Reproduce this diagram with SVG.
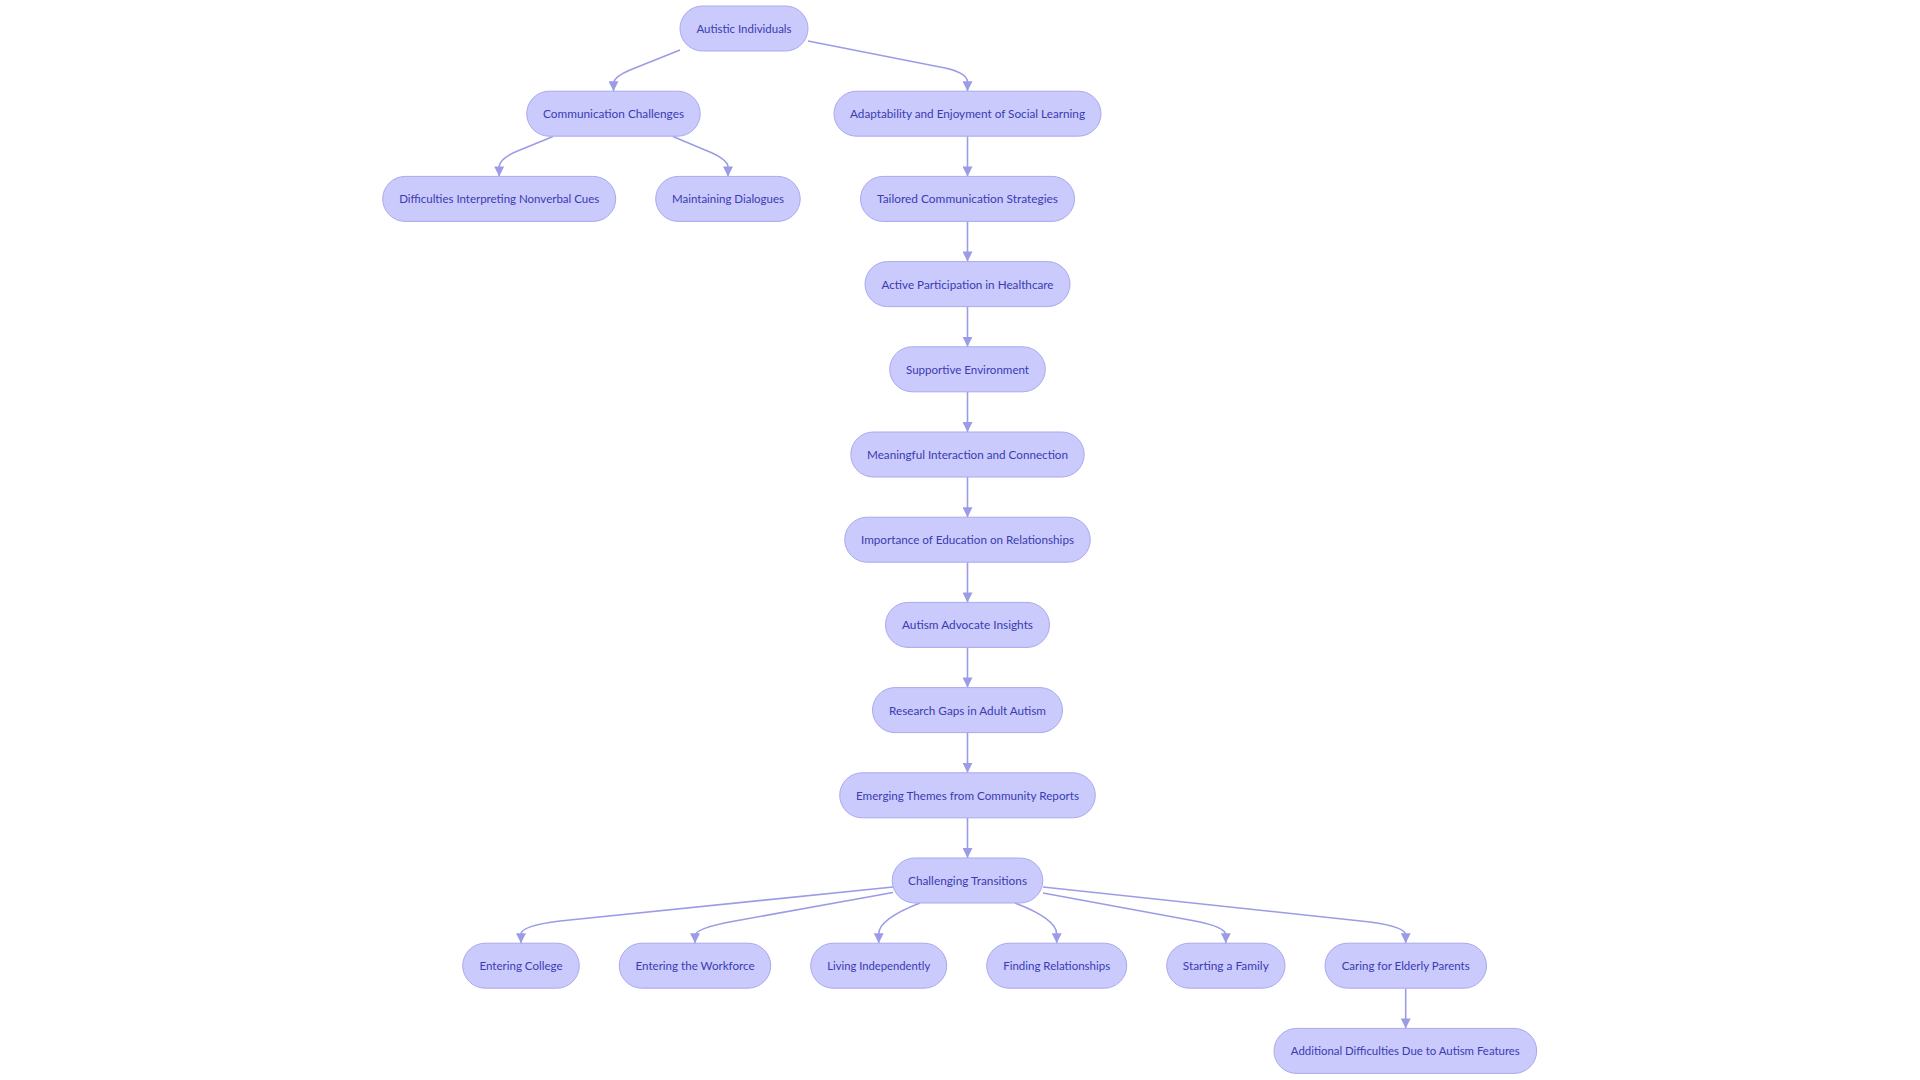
<svg xmlns="http://www.w3.org/2000/svg" width="1920" height="1080" viewBox="0 0 1920 1080">
<style>
.bg{fill:#ffffff}
.node rect{fill:#cacafc;stroke:#a9a9ee;stroke-width:1}
.node text{font-family:Lato,"Noto Sans",sans-serif;font-size:12.2px;fill:#3b3bb2;text-anchor:middle;dominant-baseline:central}
.edge{fill:none;stroke:#9c9ce6;stroke-width:1.6}
</style>
<defs>
<marker id="arr" viewBox="0 0 10 10" refX="10" refY="5" markerWidth="10.5" markerHeight="10" markerUnits="userSpaceOnUse" orient="auto">
<path d="M0,0 L10,5 L0,10 Z" fill="#9c9ce6"/>
</marker>
</defs>
<rect class="bg" x="0" y="0" width="1920" height="1080"/>
<g id="connectors">
<path class="edge" marker-end="url(#arr)" d="M680,50 L635,68 Q613.5,76 613.5,84 L613.5,91.2"/>
<path class="edge" marker-end="url(#arr)" d="M808,41 L945,68 Q967.5,73 967.5,82 L967.5,91.2"/>
<path class="edge" marker-end="url(#arr)" d="M553,136.5 L520,150 Q499.2,158 499.2,167 L499.2,176.4"/>
<path class="edge" marker-end="url(#arr)" d="M673,136.5 L705,150 Q728,159 728,167 L728,176.4"/>
<path class="edge" marker-end="url(#arr)" d="M967.5,136.2 L967.5,176.4"/>
<path class="edge" marker-end="url(#arr)" d="M967.5,221.4 L967.5,261.6"/>
<path class="edge" marker-end="url(#arr)" d="M967.5,306.6 L967.5,346.8"/>
<path class="edge" marker-end="url(#arr)" d="M967.5,391.8 L967.5,432"/>
<path class="edge" marker-end="url(#arr)" d="M967.5,477 L967.5,517.2"/>
<path class="edge" marker-end="url(#arr)" d="M967.5,562.2 L967.5,602.4"/>
<path class="edge" marker-end="url(#arr)" d="M967.5,647.4 L967.5,687.6"/>
<path class="edge" marker-end="url(#arr)" d="M967.5,732.6 L967.5,772.8"/>
<path class="edge" marker-end="url(#arr)" d="M967.5,817.8 L967.5,858"/>
<path class="edge" marker-end="url(#arr)" d="M893,887 L560,921 Q521,926 521,934 L521,943.2"/>
<path class="edge" marker-end="url(#arr)" d="M893,892.5 L735,921 Q695,928 695,936 L695,943.2"/>
<path class="edge" marker-end="url(#arr)" d="M920,903 Q878.7,919 878.7,934 L878.7,943.2"/>
<path class="edge" marker-end="url(#arr)" d="M1015,903 Q1056.7,919 1056.7,934 L1056.7,943.2"/>
<path class="edge" marker-end="url(#arr)" d="M1043,893 L1195,921 Q1225.8,927 1225.8,935 L1225.8,943.2"/>
<path class="edge" marker-end="url(#arr)" d="M1043,887 L1370,922 Q1405.7,927 1405.7,935 L1405.7,943.2"/>
<path class="edge" marker-end="url(#arr)" d="M1405.7,988.2 L1405.7,1028.4"/>
</g>
<g id="n_autistic" class="node"><rect x="680" y="6" width="128" height="45" rx="22.5"/><text x="744" y="28.5" textLength="95" lengthAdjust="spacingAndGlyphs">Autistic Individuals</text></g>
<g id="n_comm" class="node"><rect x="526.7" y="91.2" width="173.5" height="45" rx="22.5"/><text x="613.5" y="113.7" textLength="141" lengthAdjust="spacingAndGlyphs">Communication Challenges</text></g>
<g id="n_adapt" class="node"><rect x="834" y="91.2" width="267" height="45" rx="22.5"/><text x="967.5" y="113.7" textLength="235" lengthAdjust="spacingAndGlyphs">Adaptability and Enjoyment of Social Learning</text></g>
<g id="n_diff" class="node"><rect x="382.7" y="176.4" width="233" height="45" rx="22.5"/><text x="499.2" y="198.9" textLength="200" lengthAdjust="spacingAndGlyphs">Difficulties Interpreting Nonverbal Cues</text></g>
<g id="n_maint" class="node"><rect x="655.7" y="176.4" width="144.5" height="45" rx="22.5"/><text x="728" y="198.9" textLength="112" lengthAdjust="spacingAndGlyphs">Maintaining Dialogues</text></g>
<g id="n_tailored" class="node"><rect x="860.5" y="176.4" width="214" height="45" rx="22.5"/><text x="967.5" y="198.9" textLength="181" lengthAdjust="spacingAndGlyphs">Tailored Communication Strategies</text></g>
<g id="n_active" class="node"><rect x="865" y="261.6" width="205" height="45" rx="22.5"/><text x="967.5" y="284.1" textLength="172" lengthAdjust="spacingAndGlyphs">Active Participation in Healthcare</text></g>
<g id="n_support" class="node"><rect x="889.7" y="346.8" width="155.6" height="45" rx="22.5"/><text x="967.5" y="369.3" textLength="123" lengthAdjust="spacingAndGlyphs">Supportive Environment</text></g>
<g id="n_meaning" class="node"><rect x="850.8" y="432" width="233.4" height="45" rx="22.5"/><text x="967.5" y="454.5" textLength="201" lengthAdjust="spacingAndGlyphs">Meaningful Interaction and Connection</text></g>
<g id="n_import" class="node"><rect x="844.7" y="517.2" width="245.6" height="45" rx="22.5"/><text x="967.5" y="539.7" textLength="213" lengthAdjust="spacingAndGlyphs">Importance of Education on Relationships</text></g>
<g id="n_advocate" class="node"><rect x="885.5" y="602.4" width="164" height="45" rx="22.5"/><text x="967.5" y="624.9" textLength="131" lengthAdjust="spacingAndGlyphs">Autism Advocate Insights</text></g>
<g id="n_research" class="node"><rect x="872.5" y="687.6" width="190" height="45" rx="22.5"/><text x="967.5" y="710.1" textLength="157" lengthAdjust="spacingAndGlyphs">Research Gaps in Adult Autism</text></g>
<g id="n_emerging" class="node"><rect x="839.7" y="772.8" width="255.6" height="45" rx="22.5"/><text x="967.5" y="795.3" textLength="223" lengthAdjust="spacingAndGlyphs">Emerging Themes from Community Reports</text></g>
<g id="n_challenging" class="node"><rect x="892.2" y="858" width="150.6" height="45" rx="22.5"/><text x="967.5" y="880.5" textLength="119" lengthAdjust="spacingAndGlyphs">Challenging Transitions</text></g>
<g id="n_college" class="node"><rect x="462.7" y="943.2" width="116.6" height="45" rx="22.5"/><text x="521" y="965.7" textLength="83" lengthAdjust="spacingAndGlyphs">Entering College</text></g>
<g id="n_workforce" class="node"><rect x="619.3" y="943.2" width="151.4" height="45" rx="22.5"/><text x="695" y="965.7" textLength="119" lengthAdjust="spacingAndGlyphs">Entering the Workforce</text></g>
<g id="n_living" class="node"><rect x="810.7" y="943.2" width="136" height="45" rx="22.5"/><text x="878.7" y="965.7" textLength="103" lengthAdjust="spacingAndGlyphs">Living Independently</text></g>
<g id="n_finding" class="node"><rect x="986.7" y="943.2" width="140" height="45" rx="22.5"/><text x="1056.7" y="965.7" textLength="107" lengthAdjust="spacingAndGlyphs">Finding Relationships</text></g>
<g id="n_family" class="node"><rect x="1166.7" y="943.2" width="118.3" height="45" rx="22.5"/><text x="1225.8" y="965.7" textLength="86" lengthAdjust="spacingAndGlyphs">Starting a Family</text></g>
<g id="n_caring" class="node"><rect x="1325" y="943.2" width="161.5" height="45" rx="22.5"/><text x="1405.7" y="965.7" textLength="128" lengthAdjust="spacingAndGlyphs">Caring for Elderly Parents</text></g>
<g id="n_additional" class="node"><rect x="1274" y="1028.4" width="262.7" height="45" rx="22.5"/><text x="1405.3" y="1050.9" textLength="229" lengthAdjust="spacingAndGlyphs">Additional Difficulties Due to Autism Features</text></g>
</svg>
